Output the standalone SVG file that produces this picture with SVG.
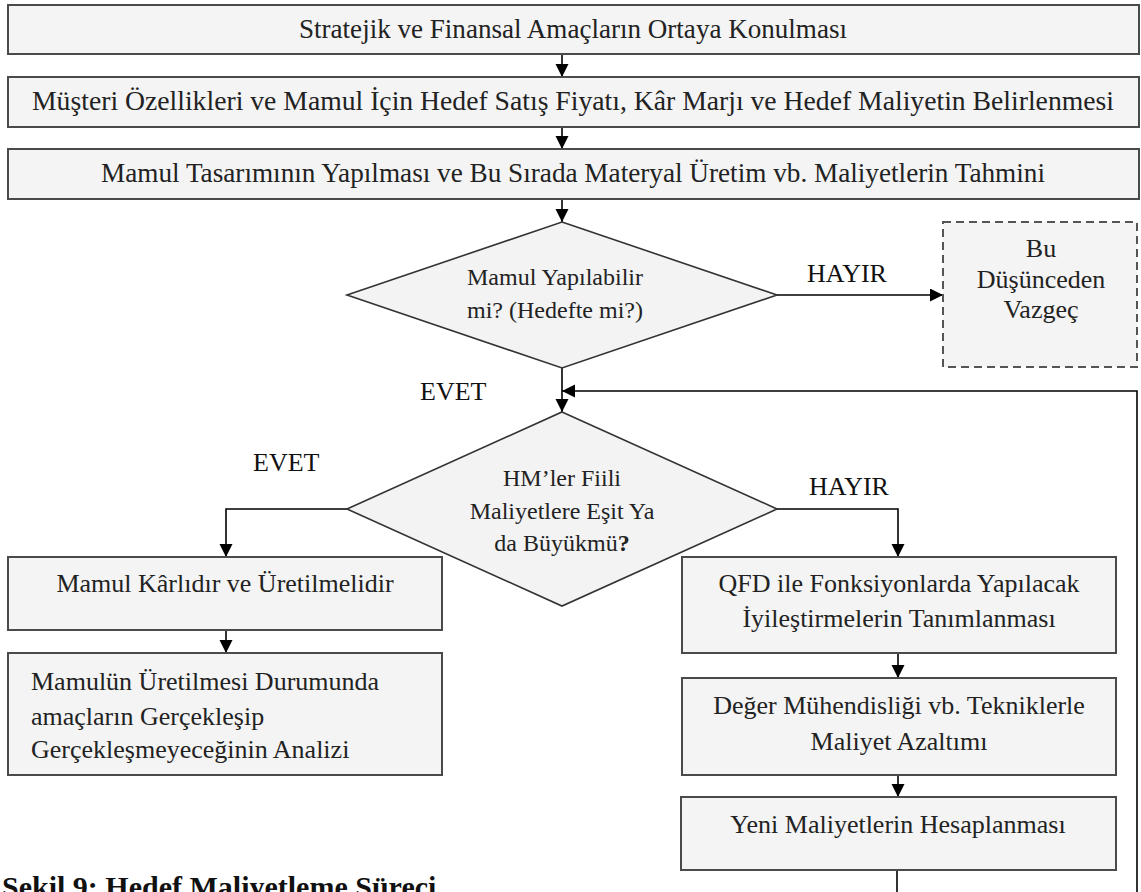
<svg xmlns="http://www.w3.org/2000/svg" width="1141" height="892" viewBox="0 0 1141 892">
  <defs>
    <marker id="arrow" markerUnits="userSpaceOnUse" markerWidth="14" markerHeight="14" refX="13" refY="6.5" orient="auto">
      <path d="M0,0 L13,6.5 L0,13 Z" fill="#000"/>
    </marker>
    <style>
      .box { fill: #f4f4f4; stroke: #4a4a4a; stroke-width: 2; }
      .dash { fill: #f4f4f4; stroke: #555; stroke-width: 2; stroke-dasharray: 8 5; }
      .dia { fill: #f3f3f3; stroke: #333; stroke-width: 1.6; }
      .t { font-family: "Liberation Serif", "Times New Roman", serif; font-size: 26px; fill: #222; }
      .top { font-size: 28px; }
      .dt { font-size: 24px; }
      .c { text-anchor: middle; }
      .lbl { font-family: "Liberation Serif", "Times New Roman", serif; font-size: 26px; fill: #111; }
      .link { fill: none; stroke: #000; stroke-width: 1.6; }
      .cap { font-family: "Liberation Serif", "Times New Roman", serif; font-size: 30px; font-weight: bold; fill: #111; }
    </style>
  </defs>

  <rect width="1141" height="892" fill="#fff"/>

  <!-- connectors and their labels -->
  <g id="connectors">
    <path class="link" d="M562,54 V77" marker-end="url(#arrow)"/>
    <path class="link" d="M562,127 V149" marker-end="url(#arrow)"/>
    <path class="link" d="M562,199 V222" marker-end="url(#arrow)"/>
    <path class="link" d="M777,295 H943" marker-end="url(#arrow)"/>
    <path class="link" d="M562,368 V412" marker-end="url(#arrow)"/>
    <path class="link" d="M347,509 H226 V557" marker-end="url(#arrow)"/>
    <path class="link" d="M777,509 H898 V557" marker-end="url(#arrow)"/>
    <path class="link" d="M226,630 V653" marker-end="url(#arrow)"/>
    <path class="link" d="M898,653 V678" marker-end="url(#arrow)"/>
    <path class="link" d="M898,775 V797" marker-end="url(#arrow)"/>
    <!-- feedback loop: runs below the visible area and back up the right side -->
    <path class="link" d="M897,870 V905 H1137 V391 H562" marker-end="url(#arrow)"/>
    <text class="lbl" x="807" y="282">HAYIR</text>
    <text class="lbl" x="420" y="400">EVET</text>
    <text class="lbl" x="253" y="471">EVET</text>
    <text class="lbl" x="809" y="495">HAYIR</text>
  </g>

  <g id="n1">
    <rect class="box" x="8" y="5" width="1131" height="49"/>
    <text class="t top c" x="573" y="38" textLength="548" lengthAdjust="spacingAndGlyphs">Stratejik ve Finansal Amaçların Ortaya Konulması</text>
  </g>
  <g id="n2">
    <rect class="box" x="8" y="77" width="1131" height="50"/>
    <text class="t top c" x="573" y="110" textLength="1082" lengthAdjust="spacingAndGlyphs">Müşteri Özellikleri ve Mamul İçin Hedef Satış Fiyatı, Kâr Marjı ve Hedef Maliyetin Belirlenmesi</text>
  </g>
  <g id="n3">
    <rect class="box" x="8" y="149" width="1131" height="50"/>
    <text class="t top c" x="573" y="182" textLength="944" lengthAdjust="spacingAndGlyphs">Mamul Tasarımının Yapılması ve Bu Sırada Materyal Üretim vb. Maliyetlerin Tahmini</text>
  </g>

  <g id="d1">
    <polygon class="dia" points="562,222 777,295 562,368 347,295"/>
    <text class="t dt c" x="555" y="285">Mamul Yapılabilir</text>
    <text class="t dt c" x="555" y="318">mi? (Hedefte mi?)</text>
  </g>

  <g id="stop">
    <rect class="dash" x="943" y="222" width="194" height="145"/>
    <text class="t c" x="1041" y="257">Bu</text>
    <text class="t c" x="1041" y="288">Düşünceden</text>
    <text class="t c" x="1041" y="318">Vazgeç</text>
  </g>

  <g id="d2">
    <polygon class="dia" points="562,412 777,509 562,606 347,509"/>
    <text class="t dt c" x="562" y="486">HM’ler Fiili</text>
    <text class="t dt c" x="562" y="519">Maliyetlere Eşit Ya</text>
    <text class="t dt c" x="562" y="551">da Büyükmü<tspan font-weight="bold">?</tspan></text>
  </g>

  <g id="profit">
    <rect class="box" x="8" y="557" width="434" height="73"/>
    <text class="t c" x="225" y="592">Mamul Kârlıdır ve Üretilmelidir</text>
  </g>
  <g id="analysis">
    <rect class="box" x="8" y="653" width="434" height="122"/>
    <text class="t" x="31" y="690">Mamulün Üretilmesi Durumunda</text>
    <text class="t" x="31" y="725">amaçların Gerçekleşip</text>
    <text class="t" x="31" y="758">Gerçekleşmeyeceğinin Analizi</text>
  </g>

  <g id="qfd">
    <rect class="box" x="682" y="557" width="434" height="96"/>
    <text class="t c" x="899" y="592">QFD ile Fonksiyonlarda Yapılacak</text>
    <text class="t c" x="899" y="627">İyileştirmelerin Tanımlanması</text>
  </g>
  <g id="ve">
    <rect class="box" x="682" y="678" width="434" height="97"/>
    <text class="t c" x="899" y="714">Değer Mühendisliği vb. Tekniklerle</text>
    <text class="t c" x="899" y="750">Maliyet Azaltımı</text>
  </g>
  <g id="newcost">
    <rect class="box" x="681" y="797" width="435" height="73"/>
    <text class="t c" x="898" y="833">Yeni Maliyetlerin Hesaplanması</text>
  </g>

  <text class="cap" x="2" y="897">Şekil 9: Hedef Maliyetleme Süreci</text>
</svg>
